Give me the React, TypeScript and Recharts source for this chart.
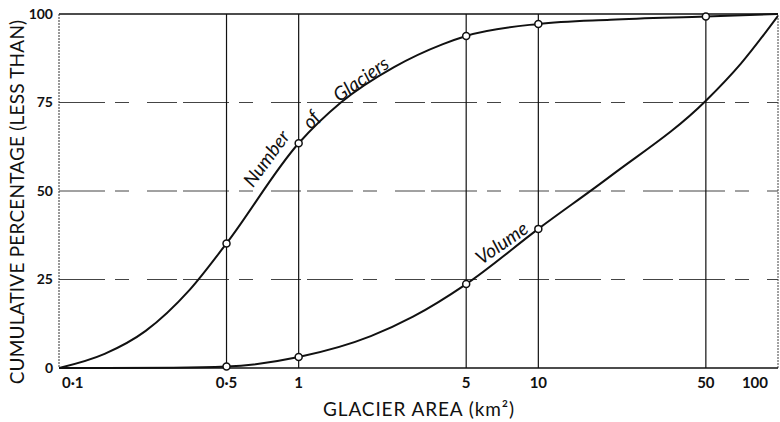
import {
  LineChart,
  Line,
  XAxis,
  YAxis,
  ReferenceLine,
  ReferenceDot,
  Label,
} from 'recharts';

const FONT = 'Lato, "Open Sans", sans-serif';
const INK = '#111';

const areaTicks = [0.1, 0.5, 1, 5, 10, 50, 100];
const areaTickLabels = ['0·1', '0·5', '1', '5', '10', '50', '100'];
const percentTicks = [0, 25, 50, 75, 100];
const gridAreas = [0.5, 1, 5, 10, 50];
const gridPercents = [25, 50, 75];

// number of glaciers (cumulative %)
const numberAreas = [0.1, 0.155, 0.23, 0.35, 0.5, 1, 1.5, 2.5, 4, 5, 10, 20, 50, 100];
const numberPercents = [0, 4, 10.5, 22, 35.2, 63.5, 75, 85, 91.5, 93.8, 97.2, 98.4, 99.3, 100];
const numberMarked = [0.5, 1, 5, 10, 50];

// volume (cumulative %)
const volumeAreas = [0.1, 0.3, 0.5, 1, 2, 3, 5, 10, 20, 50, 70, 100];
const volumePercents = [0, 0.1, 0.4, 3.1, 9, 14.5, 23.7, 39.3, 54.2, 75.5, 86, 99.5];
const volumeMarked = [0.5, 1, 5, 10];

// curve labels: [text, area, percent, angle]
const curveLabels: [string, number, number, number][] = [
  ['Number', 0.729, 59.3, -54],
  ['of', 1.12, 70.3, -50],
  ['Glaciers', 1.81, 81.8, -35],
  ['Volume', 7.0, 35.5, -35],
];

const numberData = numberAreas.map((a, i) => ({ area: a, pct: numberPercents[i] }));
const volumeData = volumeAreas.map((a, i) => ({ area: a, pct: volumePercents[i] }));

const markDot = (marked: number[]) => (props: any) => {
  const { cx, cy, payload, index } = props;
  if (!marked.includes(payload.area)) return <g key={`n-${index}`} />;
  return (
    <circle key={`d-${index}`} cx={cx} cy={cy} r={3.5} fill="#fff" stroke={INK} strokeWidth={1.5} />
  );
};

const AreaTick = (props: any) => {
  const { x, y, payload, index } = props;
  const last = areaTicks.length - 1;
  const anchor = index === 0 ? 'start' : index === last ? 'end' : 'middle';
  const dx = index === 0 ? 3 : 0;
  return (
    <text x={x + dx} y={y} dy={12} textAnchor={anchor} fontSize={15} fontWeight={700} fill={INK} fontFamily={FONT}>
      {areaTickLabels[areaTicks.indexOf(payload.value)]}
    </text>
  );
};

export default function App() {
  return (
    <div style={{ width: 780, height: 422, background: '#fff' }}>
      <style>{'body{margin:0}'}</style>
      <LineChart width={780} height={422} margin={{ top: 14, right: 2, left: 0, bottom: 0 }}>
        <XAxis
          dataKey="area"
          type="number"
          scale="log"
          domain={[0.1, 100]}
          ticks={areaTicks}
          allowDataOverflow
          height={54}
          tickSize={0}
          tickMargin={8}
          tick={<AreaTick />}
          axisLine={{ stroke: INK, strokeWidth: 1.5 }}
        >
          <Label
            content={() => (
              <text x={419} y={416} textAnchor="middle" fontSize={19} letterSpacing={0.9} fill={INK} fontFamily={FONT}>
                GLACIER AREA (km²)
              </text>
            )}
          />
        </XAxis>
        <YAxis
          dataKey="pct"
          type="number"
          domain={[0, 100]}
          ticks={percentTicks}
          width={59}
          tickSize={0}
          tickMargin={6}
          tick={{ fontSize: 14, fontWeight: 700, fill: INK, fontFamily: FONT }}
          axisLine={{ stroke: '#333', strokeWidth: 1, strokeDasharray: '2 1' }}
        >
          <Label
            content={() => (
              <text
                x={24}
                y={202}
                transform="rotate(-90 24 202)"
                textAnchor="middle"
                fontSize={19}
                letterSpacing={0.2}
                fill={INK}
                fontFamily={FONT}
              >
                CUMULATIVE PERCENTAGE (LESS THAN)
              </text>
            )}
          />
        </YAxis>
        {gridPercents.map((p) => (
          <ReferenceLine key={`h${p}`} y={p} stroke="#444" strokeWidth={1} strokeDasharray="46 10 14 18 30 6" />
        ))}
        <ReferenceLine y={100} stroke={INK} strokeWidth={1.5} />
        {gridAreas.map((a) => (
          <ReferenceLine key={`v${a}`} x={a} stroke={INK} strokeWidth={1.2} />
        ))}
        <ReferenceLine x={100} stroke="#444" strokeWidth={1} strokeDasharray="2 1" />
        <Line
          data={numberData}
          dataKey="pct"
          type="monotone"
          stroke={INK}
          strokeWidth={2}
          dot={markDot(numberMarked)}
          activeDot={false}
          isAnimationActive={false}
        />
        <Line
          data={volumeData}
          dataKey="pct"
          type="monotone"
          stroke={INK}
          strokeWidth={2}
          dot={markDot(volumeMarked)}
          activeDot={false}
          isAnimationActive={false}
        />
        {curveLabels.map(([text, area, pct, angle]) => (
          <ReferenceDot
            key={text}
            x={area}
            y={pct}
            r={0}
            stroke="none"
            fill="none"
            label={{
              content: (p: any) => {
                const cx = p.viewBox.x + (p.viewBox.width || 0) / 2;
                const cy = p.viewBox.y + (p.viewBox.height || 0) / 2;
                return (
                  <text
                    x={cx}
                    y={cy}
                    transform={`rotate(${angle} ${cx} ${cy})`}
                    textAnchor="middle"
                    dominantBaseline="central"
                    fontSize={19}
                    fontStyle="italic"
                    fill={INK}
                    fontFamily={FONT}
                  >
                    {text}
                  </text>
                );
              },
            }}
          />
        ))}
      </LineChart>
    </div>
  );
}
